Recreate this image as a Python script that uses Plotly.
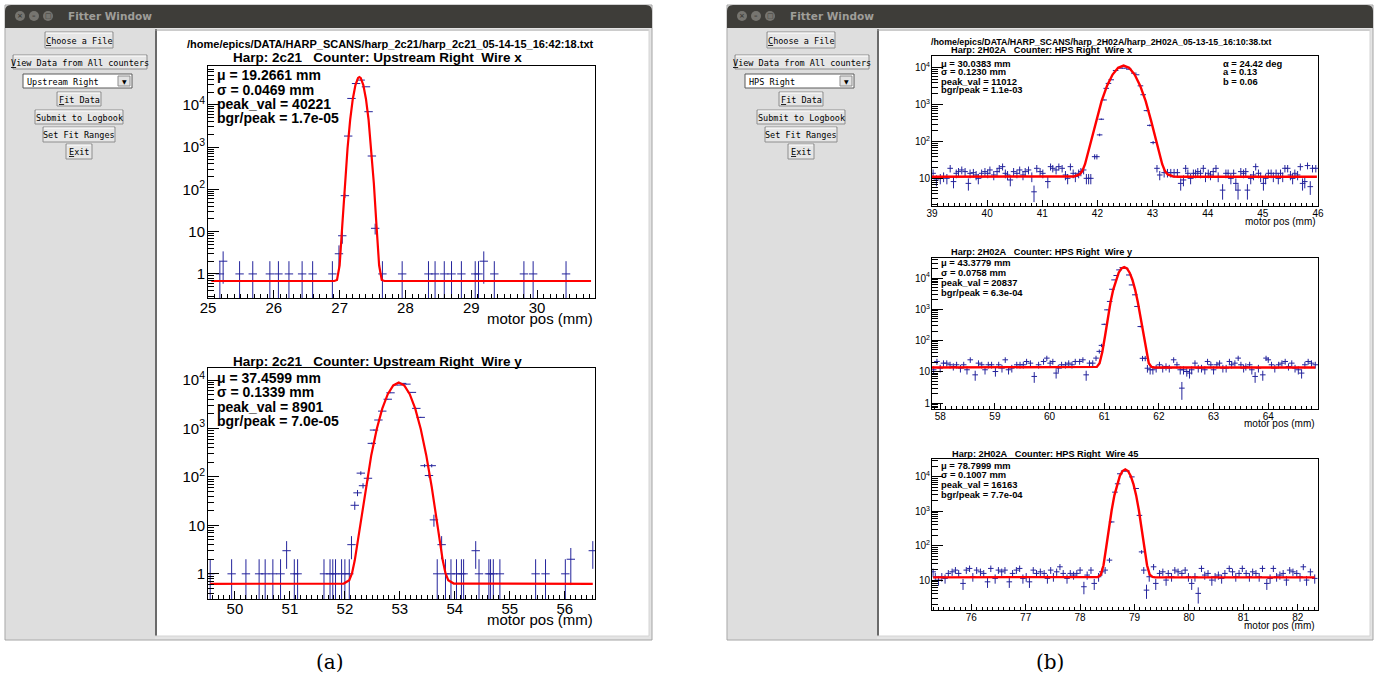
import plotly.graph_objects as go

W, H = 1375, 679

# ======================= DATA =======================
# (a) Harp 2c21, Upstream Right, wire x
tl_points = [(25.18, 1), (25.23, 2), (25.48, 1), (25.68, 1), (25.94, 1), (26.07, 1), (26.23, 1),
             (26.43, 1), (26.59, 1), (26.89, 1), (26.99, 3), (27.04, 8), (27.08, 71), (27.13, 1830),
             (27.18, 14200), (27.25, 32000), (27.32, 38600), (27.40, 26800), (27.44, 6900), (27.49, 617),
             (27.54, 12), (27.65, 1), (27.95, 1), (28.35, 1), (28.45, 1), (28.59, 1), (28.70, 1),
             (28.85, 1), (29.06, 1), (29.11, 1), (29.19, 2), (29.35, 1), (29.80, 1), (29.94, 1), (30.44, 1)]
tl_fit_x = [25.05, 26.92, 26.96, 27.00, 27.04, 27.08, 27.12, 27.16, 27.20, 27.24, 27.28, 27.30,
            27.32, 27.36, 27.40, 27.44, 27.48, 27.52, 27.56, 27.60, 27.64, 27.68, 30.82]
tl_fit_y = [0.68, 0.68, 0.72, 1.6, 14, 138, 930, 4400, 13800, 29500, 43600, 45700,
            43600, 29500, 13800, 4400, 930, 138, 14, 1.6, 0.72, 0.68, 0.68]

# (a) Harp 2c21, Upstream Right, wire y
bl_points = [(49.55, 1), (49.94, 1), (50.20, 1), (50.44, 1), (50.55, 1), (50.69, 1), (50.83, 1),
             (50.94, 3), (51.08, 1), (51.14, 1), (51.62, 1), (51.73, 1), (51.78, 1), (51.83, 1),
             (51.94, 1), (52.00, 1), (52.08, 1), (52.12, 4), (52.18, 26), (52.23, 47), (52.29, 120),
             (52.33, 66), (52.42, 94), (52.49, 494), (52.53, 930), (52.61, 1500), (52.68, 2290),
             (52.78, 4030), (52.83, 5470), (52.96, 7900), (53.04, 8560), (53.12, 8260), (53.22, 5580),
             (53.30, 2610), (53.38, 1700), (53.45, 171), (53.53, 107), (53.58, 171), (53.62, 13),
             (53.68, 1), (53.76, 4), (53.83, 1), (53.93, 1), (54.03, 1), (54.12, 1), (54.16, 1),
             (54.38, 3), (54.44, 1), (54.62, 1), (54.65, 1), (54.70, 1), (54.82, 1), (55.47, 1),
             (55.65, 1), (56.01, 1), (56.11, 2), (56.51, 3)]
bl_fit_x = [49.55, 51.98, 52.08, 52.13, 52.18, 52.28, 52.38, 52.48, 52.58, 52.68, 52.78, 52.88, 52.98,
            53.08, 53.18, 53.28, 53.38, 53.48, 53.58, 53.68, 53.78, 53.83, 53.88, 53.98, 56.51]
bl_fit_y = [0.62, 0.63, 0.74, 1.03, 1.9, 10.2, 62, 282, 977, 2570, 5130, 7760, 8900,
            7760, 5130, 2570, 977, 282, 62, 10.2, 1.9, 1.03, 0.74, 0.63, 0.62]

# (b) Harp 2H02A, HPS Right, wire x
tr_points = [(39.02, 14.2), (39.08, 9.4), (39.15, 10.4), (39.21, 11.6), (39.27, 10.4), (39.33, 19.4),
             (39.39, 8.5), (39.44, 14.2), (39.48, 15.8), (39.54, 17.5), (39.60, 15.8), (39.66, 7.6),
             (39.69, 14.2), (39.75, 14.8), (39.80, 12.8), (39.84, 10.4), (39.90, 14.2), (39.96, 15.8),
             (40.01, 14.2), (40.05, 17.5), (40.12, 12.8), (40.18, 15.8), (40.22, 19.4), (40.28, 21.5),
             (40.33, 14.2), (40.37, 12.8), (40.42, 9.4), (40.48, 15.8), (40.54, 14.2), (40.59, 17.5),
             (40.65, 12.8), (40.69, 15.8), (40.75, 17.5), (40.81, 11.6), (40.85, 4.5), (40.90, 19.4),
             (40.96, 15.8), (41.01, 14.2), (41.10, 8.5), (41.15, 21.5), (41.19, 19.4), (41.25, 17.5),
             (41.30, 21.5), (41.36, 19.4), (41.42, 12.8), (41.46, 10.4), (41.51, 21.5), (41.56, 14.2),
             (41.60, 11.6), (41.66, 14.2), (41.70, 15.8), (41.75, 17.5), (41.80, 10.4), (41.84, 10.4),
             (41.88, 10.4), (41.95, 40), (41.99, 40), (42.04, 155), (42.07, 410), (42.12, 1360),
             (42.16, 2800), (42.20, 3800), (42.25, 4760), (42.33, 8500), (42.41, 9800), (42.49, 9800),
             (42.57, 9200), (42.66, 7200), (42.71, 6500), (42.78, 3270), (42.83, 1880), (42.89, 700),
             (42.95, 280), (43.01, 96), (43.08, 19.4), (43.13, 12.8), (43.21, 14.8), (43.27, 14.8),
             (43.33, 14.8), (43.39, 14.8), (43.45, 14.8), (43.51, 7.6), (43.56, 9.4), (43.60, 19.4),
             (43.64, 14.2), (43.69, 10.4), (43.74, 14.2), (43.78, 14.2), (43.82, 15.8), (43.87, 14.2),
             (43.92, 19.4), (43.96, 11.6), (44.01, 14.2), (44.05, 12.8), (44.10, 15.8), (44.15, 19.4),
             (44.19, 11.6), (44.27, 5.0), (44.33, 14.2), (44.37, 14.2), (44.42, 10.4), (44.47, 14.2),
             (44.51, 7.6), (44.55, 5.0), (44.60, 15.8), (44.65, 14.2), (44.69, 15.8), (44.72, 5.0),
             (44.78, 10.4), (44.83, 12.8), (44.87, 21.5), (44.92, 14.2), (44.96, 11.6), (45.01, 7.6),
             (45.05, 10.4), (45.10, 14.2), (45.15, 14.2), (45.19, 11.6), (45.24, 14.2), (45.28, 10.4),
             (45.32, 14.2), (45.36, 11.6), (45.40, 19.4), (45.45, 19.4), (45.50, 12.8), (45.54, 10.4),
             (45.58, 14.2), (45.63, 12.8), (45.68, 21.5), (45.72, 7.6), (45.76, 8.5), (45.81, 23),
             (45.86, 6.2), (45.90, 19.4), (45.96, 19.4)]
tr_fit_x = [39.0, 41.475, 41.575, 41.675, 41.725, 41.775, 41.875, 41.975, 42.075, 42.175, 42.275, 42.375,
            42.475, 42.575, 42.675, 42.775, 42.875, 42.975, 43.075, 43.175, 43.225, 43.275, 43.375,
            43.475, 45.98]
tr_fit_y = [11.5, 11.5, 11.7, 13.2, 16.3, 25, 91, 363, 1260, 3300, 6600, 10000, 11500,
            10000, 6600, 3300, 1260, 363, 91, 25, 16.3, 13.2, 11.7, 11.5, 11.5]

# (b) Harp 2H02A, HPS Right, wire y
mr_points = [(57.88, 11.6), (57.94, 21.4), (58.00, 13.1), (58.06, 18.9), (58.12, 18.9), (58.18, 16.8),
             (58.24, 14.8), (58.30, 16.8), (58.37, 13.1), (58.43, 16.8), (58.49, 11.6), (58.55, 24.2),
             (58.64, 8.0), (58.70, 18.9), (58.76, 16.8), (58.82, 11.6), (58.88, 16.8), (58.94, 16.8),
             (59.01, 10.2), (59.07, 16.8), (59.13, 13.1), (59.19, 24.2), (59.25, 11.6), (59.31, 13.1),
             (59.40, 16.8), (59.46, 16.8), (59.52, 16.8), (59.58, 21.4), (59.65, 18.9), (59.72, 7.1),
             (59.80, 16.8), (59.89, 21.4), (59.95, 27.4), (60.01, 18.9), (60.06, 21.4), (60.12, 9.1),
             (60.16, 13.1), (60.22, 16.8), (60.29, 16.8), (60.35, 18.9), (60.41, 16.8), (60.47, 21.4),
             (60.55, 21.4), (60.61, 24.2), (60.67, 8.0), (60.73, 18.9), (60.79, 18.9), (60.85, 27.4),
             (60.91, 45), (60.95, 70), (61.00, 330), (61.05, 960), (61.10, 1780), (61.14, 4370),
             (61.18, 8700), (61.22, 12000), (61.27, 18200), (61.33, 21500), (61.39, 20400),
             (61.45, 12500), (61.50, 6000), (61.56, 2900), (61.60, 1230), (61.66, 280), (61.70, 27),
             (61.75, 27), (61.79, 13), (61.84, 11.6), (61.89, 11.6), (61.95, 13.1), (62.01, 16.8),
             (62.07, 13.1), (62.13, 14.8), (62.19, 13.1), (62.27, 24.2), (62.33, 16.8), (62.39, 11.6),
             (62.42, 3.0), (62.45, 11.6), (62.51, 10.2), (62.56, 9.1), (62.60, 11.6), (62.66, 18.9),
             (62.72, 13.1), (62.78, 13.1), (62.84, 11.6), (62.89, 21.4), (62.95, 16.8), (63.00, 11.6),
             (63.06, 16.8), (63.11, 18.9), (63.17, 13.1), (63.23, 13.1), (63.29, 21.4), (63.33, 16.8),
             (63.39, 18.9), (63.45, 27.4), (63.50, 16.8), (63.55, 13.1), (63.59, 14.8), (63.66, 16.8),
             (63.70, 11.6), (63.76, 7.1), (63.82, 13.1), (63.90, 8.0), (63.96, 27.4), (64.00, 24.2),
             (64.06, 16.8), (64.12, 13.1), (64.19, 16.8), (64.25, 18.9), (64.31, 21.4), (64.37, 14.8),
             (64.43, 18.9), (64.49, 13.1), (64.55, 11.6), (64.61, 9.1), (64.67, 16.8), (64.73, 21.4),
             (64.79, 18.9), (64.86, 16.8)]
mr_fit_x = [57.85, 60.815, 60.865, 60.915, 60.965, 61.015, 61.065, 61.115, 61.165, 61.215, 61.265, 61.315,
            61.365, 61.415, 61.465, 61.515, 61.565, 61.615, 61.665, 61.715, 61.765, 61.815, 61.865,
            61.915, 64.86]
mr_fit_y = [13.7, 13.7, 14.4, 18.8, 43, 140, 537, 1680, 4270, 8800, 14800, 20200, 22400,
            20200, 14800, 8800, 4270, 1680, 537, 140, 43, 18.8, 14.4, 13.7, 13.7]

# (b) Harp 2H02A, HPS Right, wire 45
br_points = [(75.30, 17.4), (75.34, 12.5), (75.40, 10.0), (75.46, 12.5), (75.52, 11.2), (75.58, 15.6),
             (75.65, 17.4), (75.71, 19.5), (75.77, 15.6), (75.85, 8.0), (75.91, 19.5), (75.97, 21.8),
             (76.03, 12.5), (76.10, 19.5), (76.17, 17.4), (76.23, 15.6), (76.30, 8.9), (76.36, 21.8),
             (76.44, 11.2), (76.50, 19.5), (76.56, 17.4), (76.62, 19.5), (76.70, 8.9), (76.76, 15.6),
             (76.83, 19.5), (76.89, 21.8), (76.95, 11.2), (77.01, 12.5), (77.07, 8.9), (77.14, 19.5),
             (77.20, 15.6), (77.27, 17.4), (77.34, 15.6), (77.40, 11.2), (77.46, 19.5), (77.51, 12.5),
             (77.57, 17.4), (77.63, 24.3), (77.69, 15.6), (77.76, 11.2), (77.82, 15.6), (77.88, 14.0),
             (77.94, 15.6), (78.00, 19.5), (78.07, 6.4), (78.13, 14.0), (78.20, 19.5), (78.26, 8.0),
             (78.34, 12.5), (78.40, 17.4), (78.46, 19.5), (78.54, 38), (78.58, 490), (78.64, 3600),
             (78.69, 6300), (78.73, 12300), (78.80, 14800), (78.86, 14800), (78.95, 10000),
             (79.03, 4600), (79.09, 760), (79.13, 66), (79.17, 19.5), (79.22, 5.1), (79.27, 12.5),
             (79.35, 24.3), (79.39, 8.0), (79.46, 15.6), (79.52, 17.4), (79.58, 10.0), (79.62, 15.6),
             (79.68, 12.5), (79.74, 19.5), (79.80, 17.4), (79.87, 15.6), (79.93, 19.5), (79.99, 12.5),
             (80.05, 8.0), (80.11, 12.5), (80.17, 4.1), (80.23, 21.8), (80.29, 14.0), (80.35, 15.6),
             (80.42, 10.0), (80.48, 12.5), (80.54, 14.0), (80.60, 11.2), (80.66, 15.6), (80.74, 21.8),
             (80.80, 17.4), (80.86, 12.5), (80.92, 15.6), (80.98, 21.8), (81.05, 15.6), (81.11, 12.5),
             (81.17, 17.4), (81.23, 15.6), (81.29, 12.5), (81.35, 21.8), (81.43, 8.0), (81.49, 11.2),
             (81.55, 21.8), (81.61, 12.5), (81.67, 14.0), (81.73, 15.6), (81.79, 10.0), (81.85, 19.5),
             (81.91, 17.4), (81.98, 15.6), (82.04, 12.5), (82.10, 24.3), (82.16, 10.0), (82.23, 17.4),
             (82.31, 11.2)]
br_fit_x = [75.3, 78.28, 78.33, 78.38, 78.43, 78.48, 78.53, 78.58, 78.63, 78.68, 78.73, 78.78, 78.83,
            78.88, 78.93, 78.98, 79.03, 79.08, 79.13, 79.18, 79.23, 79.28, 79.33, 79.38, 82.31]
br_fit_y = [12, 12, 12.3, 14.3, 27, 90, 324, 1070, 2900, 6200, 10700, 14800, 16600,
            14800, 10700, 6200, 2900, 1070, 324, 90, 27, 14.3, 12.3, 12, 12]

# text
file_a = "/home/epics/DATA/HARP_SCANS/harp_2c21/harp_2c21_05-14-15_16:42:18.txt"
file_b = "/home/epics/DATA/HARP_SCANS/harp_2H02A/harp_2H02A_05-13-15_16:10:38.txt"
titles = ["Harp: 2c21   Counter: Upstream Right  Wire x",
          "Harp: 2c21   Counter: Upstream Right  Wire y",
          "Harp: 2H02A   Counter: HPS Right  Wire x",
          "Harp: 2H02A   Counter: HPS Right  Wire y",
          "Harp: 2H02A   Counter: HPS Right  Wire 45"]
stats = [["μ = 19.2661 mm", "σ = 0.0469 mm", "peak_val = 40221", "bgr/peak = 1.7e-05"],
         ["μ = 37.4599 mm", "σ = 0.1339 mm", "peak_val = 8901", "bgr/peak = 7.0e-05"],
         ["μ = 30.0383 mm", "σ = 0.1230 mm", "peak_val = 11012", "bgr/peak = 1.1e-03"],
         ["μ = 43.3779 mm", "σ = 0.0758 mm", "peak_val = 20837", "bgr/peak = 6.3e-04"],
         ["μ = 78.7999 mm", "σ = 0.1007 mm", "peak_val = 16163", "bgr/peak = 7.7e-04"]]
angle_stats = ["α = 24.42 deg", "a = 0.13", "b = 0.06"]
buttons = ["Choose a File", "View Data from All counters", "Fit Data", "Submit to Logbook",
           "Set Fit Ranges", "Exit"]
counters = ["Upstream Right", "HPS Right"]

# ======================= HELPERS =======================
def fx(x):
    return x / W


def fy(y):
    return 1 - y / H


shapes = []
annotations = []


def rect(x0, y0, x1, y1, fill=None, line=None, lw=1):
    shapes.append(dict(type="rect", xref="paper", yref="paper", x0=fx(x0), x1=fx(x1),
                       y0=fy(y1), y1=fy(y0), fillcolor=fill or "rgba(0,0,0,0)",
                       line=dict(color=line or "rgba(0,0,0,0)", width=lw if line else 0),
                       layer="below"))


def hline(x0, x1, y, color, lw=1):
    shapes.append(dict(type="line", xref="paper", yref="paper", x0=fx(x0), x1=fx(x1),
                       y0=fy(y), y1=fy(y), line=dict(color=color, width=lw), layer="below"))


def vline(x, y0, y1, color, lw=1):
    shapes.append(dict(type="line", xref="paper", yref="paper", x0=fx(x), x1=fx(x),
                       y0=fy(y0), y1=fy(y1), line=dict(color=color, width=lw), layer="below"))


def text(x, y, s, size, family="Liberation Sans", color="black", xanchor="left", bold=False):
    s = s.replace("  ", "\u00a0\u00a0")
    if bold:
        s = "<b>" + s + "</b>"
    annotations.append(dict(x=fx(x), y=fy(y), xref="paper", yref="paper", text=s, showarrow=False,
                            xanchor=xanchor, yanchor="middle", borderpad=0,
                            font=dict(family=family, size=size, color=color)))


def window(x0, x1, counter):
    rect(x0, 5, x1, 640, fill="#e4e4e4", line="#a4a4a4")
    path = (f"M {fx(x0)},{fy(28)} L {fx(x0)},{fy(11)} Q {fx(x0)},{fy(5)} {fx(x0 + 6)},{fy(5)} "
            f"L {fx(x1 - 6)},{fy(5)} Q {fx(x1)},{fy(5)} {fx(x1)},{fy(11)} L {fx(x1)},{fy(28)} Z")
    shapes.append(dict(type="path", xref="paper", yref="paper", path=path, fillcolor="#3e3d39",
                       line=dict(width=0), layer="below"))
    for i, sym in enumerate(["×", "–", "□"]):
        cx = x0 + 15 + 14 * i
        shapes.append(dict(type="circle", xref="paper", yref="paper", x0=fx(cx - 5), x1=fx(cx + 5),
                           y0=fy(21), y1=fy(11), fillcolor="#767570", line=dict(width=0),
                           layer="below"))
        text(cx, 16, sym, 7, family="DejaVu Sans", color="#3e3d39", xanchor="center", bold=True)
    text(x0 + 62, 16, "Fitter Window", 10.5, family="DejaVu Sans", color="#9f9e99", bold=True)
    rect(x0 + 1, 28, x0 + 150, 639, fill="#dedede")
    cx0, cx1 = x0 + 150, x1 - 3
    rect(cx0, 29, cx1, 636, fill="white")
    vline(cx0 + 1, 29, 636, "#6a6a6a", 2)
    hline(cx0, cx1, 30, "#9a9a9a", 1)
    vline(cx1, 29, 636, "#d4d4d4", 1)
    hline(cx0, cx1, 636, "#d4d4d4", 1)
    ox = x0 - 5
    boxes = [(45, 32, 113, 48), (13, 55, 147, 69), (57, 92, 101, 106), (35, 110, 123, 124),
             (43, 127, 115, 142), (66, 144, 92, 159)]
    under = [True, True, True, False, False, True]
    for (bx0, by0, bx1, by1), label, u in zip(boxes, buttons, under):
        rect(ox + bx0, by0, ox + bx1, by1, fill="#e6e6e6", line="#8e8e8e")
        hline(ox + bx0 + 1, ox + bx1 - 1, by0 + 1, "#ffffff", 1)
        lab = label
        if u:
            lab = "<span style='text-decoration:underline'>" + label[0] + "</span>" + label[1:]
        annotations.append(dict(x=fx(ox + (bx0 + bx1) / 2), y=fy((by0 + by1) / 2 + 0.5),
                                xref="paper", yref="paper", text=lab, showarrow=False,
                                xanchor="center", yanchor="middle", borderpad=0,
                                font=dict(family="DejaVu Sans Mono", size=8.5, color="black")))
    rect(ox + 23, 74, ox + 132, 88, fill="#ffffff", line="#5a5a5a")
    rect(ox + 118, 76, ox + 130, 86, fill="#e2e2e2", line="#8e8e8e")
    text(ox + 26, 81.5, counter, 8.5, family="DejaVu Sans Mono")
    text(ox + 124, 81, "▼", 6, family="DejaVu Sans", xanchor="center")


window(5, 652, counters[0])
window(727, 1373, counters[1])

# ======================= PANELS =======================
panels = [
    dict(pts=tl_points, fx_=tl_fit_x, fy_=tl_fit_y, xd=(208, 595), yd=(66, 298), xr=(25, 30.88),
         yr=(-0.57, 4.92), big=True),
    dict(pts=bl_points, fx_=bl_fit_x, fy_=bl_fit_y, xd=(208, 595), yd=(368, 599), xr=(49.51, 56.55),
         yr=(-0.52, 4.25), big=True),
    dict(pts=tr_points, fx_=tr_fit_x, fy_=tr_fit_y, xd=(932, 1318), yd=(56, 206), xr=(39, 46),
         yr=(0.27, 4.32), big=False),
    dict(pts=mr_points, fx_=mr_fit_x, fy_=mr_fit_y, xd=(932, 1318), yd=(258, 409), xr=(57.85, 64.91),
         yr=(-0.19, 4.64), big=False),
    dict(pts=br_points, fx_=br_fit_x, fy_=br_fit_y, xd=(932, 1318), yd=(459, 610), xr=(75.28, 82.37),
         yr=(0.13, 4.52), big=False),
]

major_vals = [1, 10, 100, 1000, 10000]
major_text = ["1", "10", "10<sup>2</sup>", "10<sup>3</sup>", "10<sup>4</sup>"]
minor_vals = [m * 10.0 ** e for e in range(-1, 5) for m in range(2, 10)]

fig = go.Figure()
layout_axes = {}
PT = "#24249c"
for i, p in enumerate(panels):
    n = "" if i == 0 else str(i + 1)
    xs = [a for a, b in p["pts"]]
    ys = [b for a, b in p["pts"]]
    big = p["big"]
    fig.add_trace(go.Scatter(
        x=xs, y=ys, mode="markers", xaxis="x" + n, yaxis="y" + n, showlegend=False,
        marker=dict(symbol="line-ew", size=6 if big else 4, color=PT,
                    line=dict(color=PT, width=1)),
        error_y=dict(type="sqrt", color=PT, thickness=1, width=0)))
    fig.add_trace(go.Scatter(
        x=p["fx_"], y=p["fy_"], mode="lines", xaxis="x" + n, yaxis="y" + n, showlegend=False,
        line=dict(color="#ff0000", width=2.2 if big else 2.4)))
    tick_fs = 15 if big else 10
    layout_axes["xaxis" + n] = dict(
        domain=[fx(p["xd"][0]), fx(p["xd"][1])], range=list(p["xr"]), anchor="y" + n,
        showline=True, linecolor="black", linewidth=1, mirror=True, automargin=False,
        ticks="inside", ticklen=8 if big else 6, tickwidth=1, tickcolor="black",
        tick0=0, dtick=1, ticklabelstandoff=-4 if big else -2,
        minor=dict(ticks="inside", ticklen=4 if big else 3, tickwidth=1, tickcolor="black",
                   tick0=0, dtick=0.1, showgrid=False),
        showgrid=False, zeroline=False,
        tickfont=dict(family="Liberation Sans", size=tick_fs, color="black"))
    layout_axes["yaxis" + n] = dict(
        domain=[fy(p["yd"][1]), fy(p["yd"][0])], type="log", range=list(p["yr"]), anchor="x" + n,
        showline=True, linecolor="black", linewidth=1, mirror=True, automargin=False,
        ticks="inside", ticklen=11, tickwidth=1, tickcolor="black",
        tickmode="array", tickvals=major_vals, ticktext=major_text, ticklabelstandoff=-1,
        minor=dict(ticks="inside", ticklen=6, tickwidth=1, tickcolor="black",
                   tickmode="array", tickvals=minor_vals, showgrid=False),
        showgrid=False, zeroline=False,
        tickfont=dict(family="Liberation Sans", size=tick_fs, color="black"))

# ---------- panel texts ----------
text(390, 44, file_a, 11, bold=True, xanchor="center")
text(377, 57, titles[0], 13.5, bold=True, xanchor="center")
text(377, 361, titles[1], 13.5, bold=True, xanchor="center")
for k, yy in enumerate([75, 90, 104, 118]):
    text(216, yy, stats[0][k], 14, bold=True)
for k, yy in enumerate([378, 392, 407, 421]):
    text(216, yy, stats[1][k], 14, bold=True)
text(594, 318, "motor pos (mm)", 15, xanchor="right")
text(594, 619, "motor pos (mm)", 15, xanchor="right")

text(1101, 42, file_b, 8.8, bold=True, xanchor="center")
text(1042, 50, titles[2], 9.2, bold=True, xanchor="center")
text(1042, 252, titles[3], 9.2, bold=True, xanchor="center")
text(1045, 454, titles[4], 9.2, bold=True, xanchor="center")
for k, yy in enumerate([63, 72, 81, 90]):
    text(940, yy, stats[2][k], 9.4, bold=True)
for k, yy in enumerate([63, 72, 81]):
    text(1222, yy, angle_stats[k], 9.4, bold=True)
for k, yy in enumerate([263, 272, 282, 292]):
    text(940, yy, stats[3][k], 9.4, bold=True)
for k, yy in enumerate([465, 474, 484, 494]):
    text(940, yy, stats[4][k], 9.4, bold=True)
text(1317, 222, "motor pos (mm)", 10, xanchor="right")
text(1316, 423, "motor pos (mm)", 10, xanchor="right")
text(1316, 625, "motor pos (mm)", 10, xanchor="right")

# captions
text(330, 662, "(a)", 20, family="DejaVu Serif", xanchor="center")
text(1050, 662, "(b)", 20, family="DejaVu Serif", xanchor="center")

fig.update_layout(
    width=W, height=H, autosize=False,
    margin=dict(l=0, r=0, t=0, b=0, pad=0, autoexpand=False),
    paper_bgcolor="white", plot_bgcolor="rgba(0,0,0,0)",
    shapes=shapes, annotations=annotations, **layout_axes)

fig.write_html("out.html", config={"displayModeBar": False, "responsive": False},
               post_script="document.body.style.margin='0px';"
                           "document.body.style.overflow='hidden';")
